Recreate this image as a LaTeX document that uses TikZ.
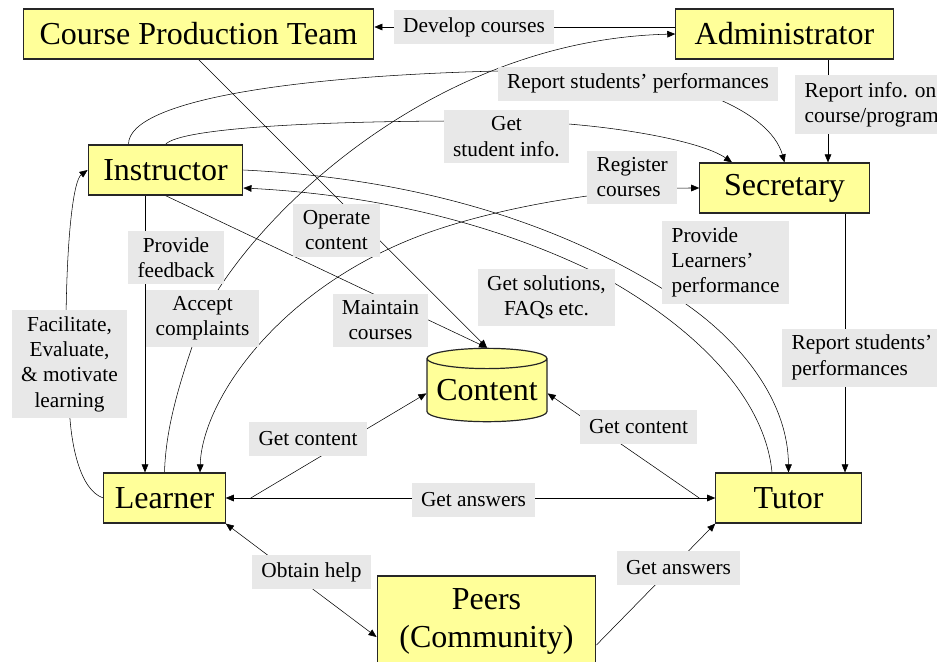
\documentclass[tikz,border=0pt]{standalone}
\usepackage{fontspec}
\setmainfont{Liberation Serif}
\usetikzlibrary{arrows.meta,calc,backgrounds,shapes.geometric}
\definecolor{boxyellow}{RGB}{255,255,153}
\definecolor{taggray}{RGB}{232,232,232}
\begin{document}
\begin{tikzpicture}[x=0.75pt,y=-0.75pt,line width=0.6pt,>={Triangle[length=6pt,width=5pt]},
  main node/.style={draw=black!85,line width=0.9pt,fill=boxyellow,minimum height=37.5pt,inner sep=0pt,font=\fontsize{24}{28.5}\selectfont},
  tag node/.style={fill=taggray,inner xsep=7pt,inner ysep=5pt,minimum height=25.5pt,font=\fontsize{16}{19}\selectfont,align=center}]
\useasboundingbox (0,0) rectangle (937,661);
\clip (0,0) rectangle (937,661);
\begin{scope}
\node[main node,minimum width=263pt] (cpt) at (198.5,34) {Course Production Team};
\node[main node,minimum width=163pt] (admin) at (784.5,34) {Administrator};
\node[main node,minimum width=116pt] (ins) at (165.5,170) {Instructor};
\node[main node,minimum width=127pt] (sec) at (784.5,188) {Secretary};
\node[main node,minimum width=91pt] (lrn) at (164.5,498) {Learner};
\node[main node,minimum width=109pt] (tut) at (788.5,498) {Tutor};
\node[main node,minimum width=164pt,minimum height=67.5pt,align=center] (peers) at (486.5,621) {Peers\\(Community)};
\node[main node,cylinder,shape border rotate=90,aspect=0.2,minimum width=90pt,minimum height=55pt,anchor=shape center] (content) at (487,385) {Content};
\end{scope}
\begin{scope}[every node/.style={tag node}]
\node (tDevelop) at (474,27) {Develop courses};
\node (tReport) at (638,83.5) {Report students' performances};
\node[anchor=west,align=left] (tInfo) at (795,104.5) {Report info. on\\course/program};
\node (tStudent) at (506.5,136.5) {Get\\student info.};
\node[anchor=west,align=left] (tRegister) at (587,177) {Register\\courses};
\node (tFeedback) at (176,257.5) {Provide\\feedback};
\node (tOperate) at (336.5,230) {Operate\\content};
\node (tComplaints) at (202.5,318.5) {Accept\\complaints};
\node (tMaintain) at (380.5,320) {Maintain\\courses};
\node (tSolutions) at (546.5,297.5) {Get solutions,\\FAQs etc.};
\node[anchor=west,align=left] (tPerf) at (662,262.5) {Provide\\Learners'\\performance};
\node (tFacilitate) at (69.5,364) {Facilitate,\\Evaluate,\\\& motivate\\learning};
\node[anchor=west,align=left] (tTutorRep) at (782,357.5) {Report students'\\performances};
\node (tContentL) at (308,438.5) {Get content};
\node (tContentR) at (638.5,427) {Get content};
\node (tAnswers) at (473.5,500) {Get answers};
\node (tHelp) at (311.5,572) {Obtain help};
\node (tAnswersB) at (678.5,568) {Get answers};
\end{scope}
\begin{scope}[on background layer]
\draw[->] (admin.west |- tDevelop) -- (cpt.east |- tDevelop);
\draw[->] (lrn.north) .. controls (166,420) and (184,370) .. (202,318) .. controls (250,220) and (430,40) .. (admin.west);
\draw[->] ($(ins.north)+(-37,0)$) .. controls (128,100) and (300,72) .. (560,70) .. controls (680,72) and (770,110) .. (sec.north);
\draw[->] (ins.north) .. controls (180,128) and (320,120) .. (506,121) .. controls (600,122) and (700,140) .. ($(sec.north)+(-52.5,0)$);
\draw[->] ($(admin.south)+(43.5,0)$) -- ($(sec.north)+(43.5,0)$);
\draw[<->] ($(lrn.north)+(35.5,0)$) .. controls (202,400) and (280,285) .. (430,232) .. controls (510,204) and (620,188) .. (sec.west);
\draw[->] ($(ins.south)+(-20.5,0)$) -- ($(lrn.north)+(-19.5,0)$);
\draw[->] (lrn.west) .. controls (80,490) and (70,445) .. (69,400) -- (66,320) .. controls (67,230) and (74,180) .. (ins.west);
\draw[->] (cpt.south) -- (content.north);
\draw[->] (ins.south) -- (content.north);
\draw[->] (ins.east) .. controls (450,180) and (590,240) .. (680,300) .. controls (740,340) and (788,400) .. (tut.north);
\draw[->] ($(tut.north)+(-16.5,0)$) .. controls (765,400) and (700,330) .. (600,275) .. controls (500,225) and (380,195) .. ($(ins.east)+(0,18)$);
\draw[->] ($(sec.south)+(60.5,0)$) -- ($(tut.north)+(56.5,0)$);
\draw[->] ($(lrn.east)+(25,0)$) -- ($(content.west)+(0,3)$);
\draw[->] ($(tut.west)+(-16,0)$) -- ($(content.east)+(0,3)$);
\draw[<->] (lrn.east) -- (tut.west);
\draw[<->] (lrn.south east) -- ($(peers.west)+(0,16)$);
\draw[->] ($(peers.east)+(0,24)$) -- (tut.south west);
\end{scope}
\end{tikzpicture}
\end{document}
